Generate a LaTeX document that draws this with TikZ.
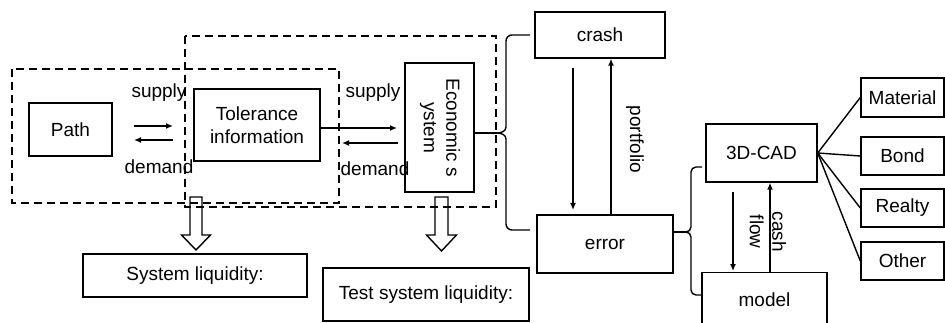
\documentclass[tikz,border=0pt]{standalone}
\usepackage{fontspec}
\setmainfont{Liberation Sans}
\usetikzlibrary{arrows.meta,calc}
\newcommand{\dfont}{\fontsize{19}{22.5}\selectfont}
\begin{document}
\begin{tikzpicture}[x=1pt,y=-1pt,
  box/.style={draw,line width=1.4pt,rectangle,inner sep=0pt,align=center,font=\dfont},
  lbl/.style={inner sep=0pt,font=\dfont,align=center},
  dbox/.style={draw,line width=1.3pt,dash pattern=on 8pt off 5pt},
  arr/.style={line width=1.3pt,-{Latex[length=7pt,width=6pt]}},
  ln/.style={line width=1.4pt},
  hollow/.style={draw,line width=1.4pt,line join=miter}]
\clip (0,0) rectangle (945,323);
\fill[white] (0,0) rectangle (945,323);

% dashed groups
\draw[dbox] (12,69) rectangle (339,203);
\draw[dbox] (185,36) rectangle (496,207);

% left nodes
\node[box,minimum width=83pt,minimum height=53pt] (path) at (70.5,129.5) {Path};
\node[box,minimum width=126pt,minimum height=72pt] (tol) at (257,125) {Tolerance\\information};
\node[box,minimum width=69pt,minimum height=129pt] (econ) at (439.5,127.5)
  {\rotatebox[origin=c]{-90}{\begin{tabular}{@{}c@{}}Economic s\\ystem\end{tabular}}};

% labels
\node[lbl] (sup1) at (159,93) {supply};
\node[lbl] (dem1) at (159,167) {demand};
\node[lbl] (sup2) at (373,93) {supply};
\node[lbl] (dem2) at (375,169) {demand};

% arrows path <-> tol
\coordinate (a1s) at (134,126); \coordinate (a1e) at (173,126);
\coordinate (a2s) at (173,140); \coordinate (a2e) at (134,140);
\draw[arr] (a1s) -- (a1e);
\draw[arr] (a2s) -- (a2e);

% arrows tol <-> econ
\coordinate (b1e) at (397,128);
\coordinate (b2s) at (398,143); \coordinate (b2e) at (342,143);
\draw[arr] (tol.east |- b1e) -- (b1e);
\draw[arr] (b2s) -- (b2e);

% crash / error
\node[box,minimum width=130pt,minimum height=46pt] (crash) at (600,35) {crash};
\node[box,minimum width=136pt,minimum height=58pt] (error) at (605,244) {error};
\coordinate (c1s) at (573,68); \coordinate (c1e) at (573,210);
\draw[arr] (c1s) -- (c1e);
\draw[arr] (error.north -| 611,0) -- (crash.south -| 611,0)
  node[lbl,rotate=-90,pos=0.48,yshift=24pt] (port) {portfolio};

% brace 1
\coordinate (t1) at (497,133);
\draw[ln] (econ.east |- t1) -- (t1);
\draw[ln] (530,35) -- (512,35) to[out=180,in=90] (506,41) -- (506,127)
  to[out=-90,in=0] (t1) to[out=0,in=90] (506,139) -- (506,224)
  to[out=-90,in=180] (512,230) -- (530,230);

% right part
\node[box,minimum width=111pt,minimum height=58pt] (cad) at (761.5,153) {3D-CAD};
\node[box,minimum width=125pt,minimum height=54pt,anchor=north] (model) at (764.5,272) {model};
\coordinate (d1s) at (733,192); \coordinate (d1e) at (733,271);
\draw[arr] (d1s) -- (d1e);
\draw[arr] (model.north -| 770,0) -- (cad.south -| 770,0)
  node[lbl,rotate=-90,pos=0.45,yshift=-2pt] (cf) {cash\\flow};

% brace 2
\coordinate (t2) at (686,232);
\draw[ln] (error.east |- t2) -- (t2);
\draw[ln] (702,167) -- (696,167) to[out=180,in=90] (691,172) -- (691,227)
  to[out=-90,in=0] (t2) to[out=0,in=90] (691,237) -- (691,290)
  to[out=-90,in=180] (696,295) -- (702,295);

\node[box,minimum width=83pt,minimum height=39pt] (mat) at (902.5,97.5) {Material};
\node[box,minimum width=83pt,minimum height=38pt] (bond) at (902.5,156) {Bond};
\node[box,minimum width=83pt,minimum height=38pt] (realty) at (902.5,208) {Realty};
\node[box,minimum width=83pt,minimum height=38pt] (other) at (902.5,261) {Other};
\foreach \n in {mat,bond,realty,other} \draw[ln] (cad.east) -- (\n.west);

% bottom boxes
\node[box,minimum width=224pt,minimum height=43pt] (sysliq) at (195,275.5) {System liquidity:};
\node[box,minimum width=206pt,minimum height=53pt] (testliq) at (426,294.5) {\raisebox{-5pt}{Test system liquidity:}};

% hollow arrows
\coordinate (h1) at (196,197);
\draw[hollow] ($(h1)+(-6,0)$) -- ++(0,38) -- ++(-8.5,0) -- ($(h1)+(0,53)$) -- ($(h1)+(14.5,38)$) -- ++(-8.5,0) -- ($(h1)+(6,0)$) -- cycle;
\coordinate (h2) at (441.5,197);
\draw[hollow] ($(h2)+(-6.5,0)$) -- ++(0,38) -- ++(-8.5,0) -- ($(h2)+(0,54)$) -- ($(h2)+(15,38)$) -- ++(-8.5,0) -- ($(h2)+(6.5,0)$) -- cycle;
\end{tikzpicture}
\end{document}
